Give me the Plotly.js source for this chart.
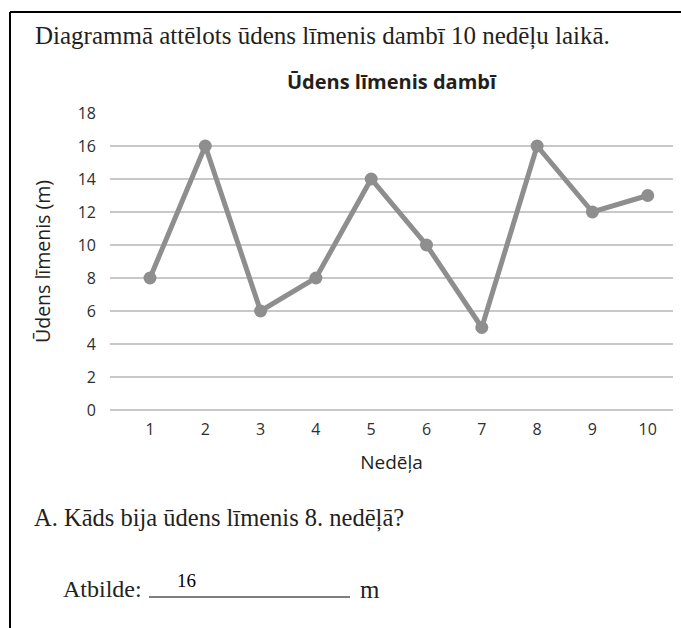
<!DOCTYPE html>
<html>
<head>
<meta charset="utf-8">
<script src="https://cdn.plot.ly/plotly-3.0.1.min.js"></script>
<style>
  html, body { margin: 0; padding: 0; background: #fff; }
</style>
</head>
<body>
<div id="chart" style="width:681px;height:628px;"></div>
<script>
// data
var weeks = [1, 2, 3, 4, 5, 6, 7, 8, 9, 10];
var level = [8, 16, 6, 8, 14, 10, 5, 16, 12, 13];
var yTicks = [0, 2, 4, 6, 8, 10, 12, 14, 16, 18];

// plot area in pixels, used to place the page text around it
var L = 110, R = 673, T = 113, B = 410;
function px(x) { return (x - L) / (R - L); }
function py(y) { return (B - y) / (B - T); }

var serif = 'Liberation Serif, serif';
var sans = 'Open Sans, sans-serif';
var ink = '#231f20';

var trace = {
  x: weeks,
  y: level,
  type: 'scatter',
  mode: 'lines+markers',
  line: {color: '#8e8e8e', width: 5},
  marker: {color: '#8e8e8e', size: 13},
  hoverinfo: 'x+y'
};

var layout = {
  width: 681,
  height: 628,
  margin: {l: L, r: 681 - R, t: T, b: 628 - B},
  paper_bgcolor: '#fff',
  plot_bgcolor: '#fff',
  showlegend: false,
  font: {family: sans, color: ink},
  xaxis: {
    range: [0.277, 10.457],
    tickvals: weeks,
    showgrid: false,
    zeroline: false,
    showline: false,
    ticks: '',
    ticklabelstandoff: 8,
    tickfont: {family: sans, size: 16, color: '#2e2e2e'},
    title: {text: 'Nedēļa', font: {family: sans, size: 19, color: ink}, standoff: 16}
  },
  yaxis: {
    range: [0, 18],
    tickvals: yTicks,
    showgrid: true,
    gridcolor: '#c8c8c8',
    gridwidth: 2,
    zeroline: true,
    zerolinecolor: '#c8c8c8',
    zerolinewidth: 2,
    showline: false,
    ticks: '',
    ticklabelstandoff: 13,
    tickfont: {family: sans, size: 16, color: '#2e2e2e'},
    title: {text: 'Ūdens līmenis (m)', font: {family: sans, size: 19.5, color: ink}, standoff: 21}
  },
  annotations: [
    {text: '<b>Ūdens līmenis dambī</b>', xref: 'paper', yref: 'paper',
     x: px(392), y: py(81), xanchor: 'center', yanchor: 'middle', showarrow: false,
     font: {family: sans, size: 20, color: ink}},
    {text: 'Diagrammā attēlots ūdens līmenis dambī 10 nedēļu laikā.', xref: 'paper', yref: 'paper',
     x: px(33), y: py(36), xanchor: 'left', yanchor: 'middle', showarrow: false,
     font: {family: serif, size: 25, color: ink}},
    {text: 'A. Kāds bija ūdens līmenis 8. nedēļā?', xref: 'paper', yref: 'paper',
     x: px(32), y: py(518), xanchor: 'left', yanchor: 'middle', showarrow: false,
     font: {family: serif, size: 24.5, color: ink}},
    {text: 'Atbilde:', xref: 'paper', yref: 'paper',
     x: px(61), y: py(589), xanchor: 'left', yanchor: 'middle', showarrow: false,
     font: {family: serif, size: 24, color: ink}},
    {text: '16', xref: 'paper', yref: 'paper',
     x: px(175), y: py(580), xanchor: 'left', yanchor: 'middle', showarrow: false,
     font: {family: serif, size: 19, color: '#000'}},
    {text: 'm', xref: 'paper', yref: 'paper',
     x: px(358), y: py(589), xanchor: 'left', yanchor: 'middle', showarrow: false,
     font: {family: serif, size: 25, color: ink}}
  ],
  shapes: [
    // page frame
    {type: 'line', xref: 'paper', yref: 'paper', x0: px(10), x1: px(681), y0: py(12), y1: py(12),
     line: {color: '#000', width: 2}},
    {type: 'line', xref: 'paper', yref: 'paper', x0: px(10), x1: px(10), y0: py(12), y1: py(628),
     line: {color: '#000', width: 2}},
    // answer line
    {type: 'line', xref: 'paper', yref: 'paper', x0: px(149), x1: px(350), y0: py(597), y1: py(597),
     line: {color: '#555', width: 1.5}}
  ]
};

Plotly.newPlot('chart', [trace], layout, {displayModeBar: false, staticPlot: true});
</script>
</body>
</html>
